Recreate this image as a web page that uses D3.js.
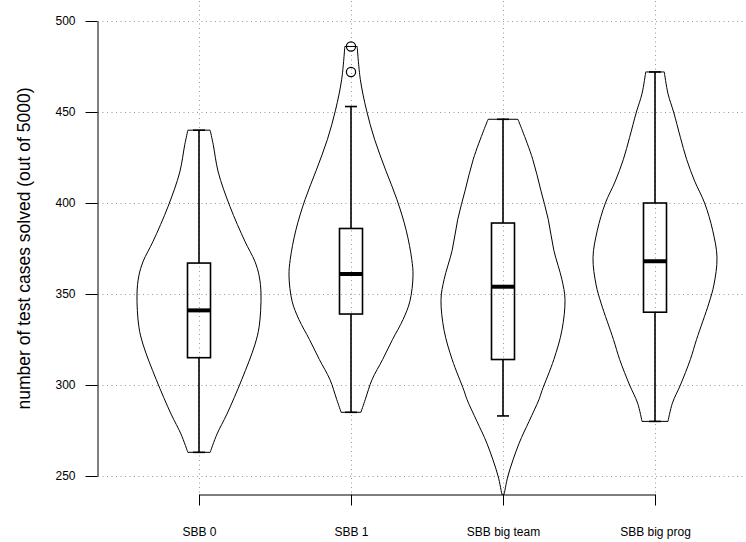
<!DOCTYPE html>
<html lang="en">
<head>
  <meta charset="UTF-8">
  <title>Violin plot - test cases solved</title>
  <style>
    body { margin: 0; background: #fff; }
    text { font-family: "Liberation Sans", Arial, Helvetica, sans-serif; fill: #000; }
  </style>
</head>
<body>
<script src="https://d3js.org/d3.v7.min.js"></script>
<div id="d3_chart"></div>

<script>
  // DATA =======================================================================================
  const groups = ["SBB 0", "SBB 1", "SBB big team", "SBB big prog"];
  const yTicks = [250, 300, 350, 400, 450, 500];

  // box plot stats
  const whiskerLo = [263, 285, 283, 280];
  const boxQ1     = [315, 339, 314, 340];
  const boxMedian = [341, 361, 354, 368];
  const boxQ3     = [367, 386, 389, 400];
  const whiskerHi = [440, 453, 446, 472];
  const outliers  = [[], [472, 486], [], []];

  // violin outlines: [value, relative density]
  const violinSBB0 = [[440, .18], [432, .23], [417, .31], [398, .50], [379, .74], [368, .90], [360, .97],
    [350, 1.0], [332, .97], [322, .90], [303, .69], [284, .45], [273, .29], [263, .18]];
  const violinSBB1 = [[486, .10], [468, .15], [451, .25], [435, .38], [418, .56], [402, .74], [385, .89],
    [369, .98], [360, 1.0], [346, .95], [336, .84], [325, .67], [314, .51], [303, .34], [292, .23], [285, .16]];
  const violinTeam = [[446, .24], [440, .31], [424, .48], [407, .61], [391, .73], [374, .82], [358, .95],
    [347, 1.0], [330, .95], [314, .82], [297, .63], [292, .58], [280, .42], [268, .26], [250, .08], [240, .02]];
  const violinProg = [[472, .15], [460, .21], [450, .30], [436, .41], [424, .51], [412, .64], [400, .80],
    [385, .93], [370, 1.0], [355, .95], [345, .87], [325, .67], [314, .57], [300, .41], [290, .28], [280, .21]];
  const violins = [violinSBB0, violinSBB1, violinTeam, violinProg];

  // PLOT AREA ==================================================================================
  const W = 746, H = 542;
  const plot = {left: 98, top: 1, bottom: 495, right: W};

  const svg = d3.select("#d3_chart")
    .append("svg")
      .attr("width", W)
      .attr("height", H);

  // SCALES =====================================================================================
  const x = d3.scalePoint().domain(groups).range([199, 655]);
  const y = d3.scaleLinear().domain([250, 500]).range([476, 21]);
  const halfWidth = d3.scaleLinear().domain([0, 1]).range([0, 62]);
  const boxHalf = 11.5, capHalf = 6;

  // GRID =======================================================================================
  const grid = svg.append("g")
    .attr("stroke", "#999")
    .attr("stroke-width", 1)
    .attr("stroke-dasharray", "1,3.5");
  grid.selectAll("line.h")
    .data(yTicks)
    .join("line")
      .attr("class", "h")
      .attr("x1", plot.left).attr("x2", plot.right)
      .attr("y1", d => Math.round(y(d)) + 0.5).attr("y2", d => Math.round(y(d)) + 0.5);
  grid.selectAll("line.v")
    .data(groups)
    .join("line")
      .attr("class", "v")
      .attr("x1", d => Math.round(x(d)) + 0.5).attr("x2", d => Math.round(x(d)) + 0.5)
      .attr("y1", plot.top).attr("y2", plot.bottom);

  // VIOLINS ====================================================================================
  const area = d3.area()
    .y(d => y(d[0]))
    .curve(d3.curveCatmullRom.alpha(0.5));

  svg.append("g")
    .selectAll("path")
    .data(violins)
    .join("path")
      .attr("d", (v, i) => {
        const cx = x(groups[i]);
        return area.x0(d => cx - halfWidth(d[1])).x1(d => cx + halfWidth(d[1]))(v);
      })
      .attr("fill", "none")
      .attr("stroke", "#000")
      .attr("stroke-width", 1);

  // BOXPLOTS ===================================================================================
  const boxes = svg.append("g")
    .selectAll("g")
    .data(groups)
    .join("g")
      .attr("transform", d => `translate(${x(d)},0)`);

  // whiskers
  boxes.append("line")
    .attr("y1", (d, i) => y(boxQ3[i])).attr("y2", (d, i) => y(whiskerHi[i]))
    .attr("stroke", "#000").attr("stroke-width", 1.6);
  boxes.append("line")
    .attr("y1", (d, i) => y(boxQ1[i])).attr("y2", (d, i) => y(whiskerLo[i]))
    .attr("stroke", "#000").attr("stroke-width", 1.6);
  // staples
  boxes.append("line")
    .attr("x1", -capHalf).attr("x2", capHalf)
    .attr("y1", (d, i) => y(whiskerHi[i])).attr("y2", (d, i) => y(whiskerHi[i]))
    .attr("stroke", "#000").attr("stroke-width", 1.6);
  boxes.append("line")
    .attr("x1", -capHalf).attr("x2", capHalf)
    .attr("y1", (d, i) => y(whiskerLo[i])).attr("y2", (d, i) => y(whiskerLo[i]))
    .attr("stroke", "#000").attr("stroke-width", 1.6);
  // box
  boxes.append("rect")
    .attr("x", -boxHalf)
    .attr("width", boxHalf * 2)
    .attr("y", (d, i) => y(boxQ3[i]))
    .attr("height", (d, i) => y(boxQ1[i]) - y(boxQ3[i]))
    .attr("fill", "none")
    .attr("stroke", "#000")
    .attr("stroke-width", 1.6);
  // median
  boxes.append("line")
    .attr("x1", -boxHalf).attr("x2", boxHalf)
    .attr("y1", (d, i) => y(boxMedian[i])).attr("y2", (d, i) => y(boxMedian[i]))
    .attr("stroke", "#000").attr("stroke-width", 4);
  // outliers
  boxes.selectAll("circle")
    .data((d, i) => outliers[i])
    .join("circle")
      .attr("cy", d => y(d))
      .attr("r", 4.6)
      .attr("fill", "none")
      .attr("stroke", "#000")
      .attr("stroke-width", 1.2);

  // AXES =======================================================================================
  const yAxis = svg.append("g")
    .attr("transform", `translate(${plot.left - 0.5},0)`)
    .call(d3.axisLeft(y).tickValues(yTicks).tickSize(12).tickSizeOuter(0).tickPadding(10));
  yAxis.selectAll("text").attr("font-size", 12).attr("font-family", null);

  const xAxis = svg.append("g")
    .attr("transform", `translate(0,${plot.bottom - 0.5})`)
    .call(d3.axisBottom(x).tickSize(11).tickSizeOuter(0).tickPadding(22));
  xAxis.selectAll("text").attr("font-size", 12).attr("font-family", null);

  svg.selectAll(".domain, .tick line").attr("stroke", "#000");

  svg.append("text")
    .attr("transform", `translate(24,${(y(250) + y(500)) / 2}) rotate(-90)`)
    .attr("text-anchor", "middle")
    .attr("dy", "0.35em")
    .attr("font-size", 17.5)
    .text("number of test cases solved (out of 5000)");
</script>
</body>
</html>
